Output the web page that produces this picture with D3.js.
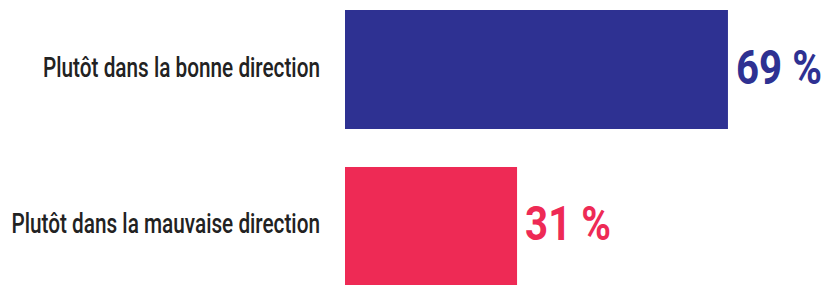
<!DOCTYPE html>
<html>
<head>
<meta charset="utf-8">
<script src="https://cdn.jsdelivr.net/npm/d3@7"></script>
<style>
  body { margin: 0; background: #fff; }
  svg { display: block; }
</style>
</head>
<body>
<div id="chart"></div>
<script>
// chart data
const categories = ["Plutôt dans la bonne direction", "Plutôt dans la mauvaise direction"];
const values = [69, 31];
const valueLabels = ["69 %", "31 %"];
const colors = ["#2e3192", "#ee2a55"];

function drawChart() {
  const width = 826;
  const height = 285;

  const svg = d3
    .select("#chart")
    .append("svg")
    .attr("width", width)
    .attr("height", height);

  // 100 % would reach x = 900, so 69 % ends at ~728
  const x = d3.scaleLinear().domain([0, 100]).range([345, 900]);

  const y = d3
    .scaleBand()
    .domain(categories)
    .range([10, 286])
    .paddingInner(0.242);

  const rows = svg
    .selectAll("g.row")
    .data(categories)
    .join("g")
    .attr("class", "row");

  rows
    .append("rect")
    .attr("x", x(0))
    .attr("y", (d) => y(d))
    .attr("width", (d, i) => x(values[i]) - x(0))
    .attr("height", y.bandwidth())
    .attr("fill", (d, i) => colors[i]);

  // category labels, right aligned (the original font is condensed,
  // so the text gets squeezed horizontally)
  const labels = rows
    .append("text")
    .attr("class", "cat")
    .attr("text-anchor", "end")
    .style("font-family", "Roboto, sans-serif")
    .style("font-size", "27px")
    .style("font-weight", 500)
    .attr("fill", "#222")
    .text((d) => d);

  const labelScale = 277 / labels.node().getComputedTextLength();
  labels.attr(
    "transform",
    (d) => `translate(320,${y(d) + y.bandwidth() / 2 + 7}) scale(${labelScale},1)`
  );

  // value labels next to the bars
  const vals = rows
    .append("text")
    .attr("class", "val")
    .style("font-family", "Roboto, sans-serif")
    .style("font-weight", "bold")
    .style("font-size", "49px")
    .attr("fill", (d, i) => colors[i])
    .text((d, i) => valueLabels[i]);

  const valScale = 86 / vals.node().getComputedTextLength();
  vals.attr(
    "transform",
    (d, i) =>
      `translate(${x(values[i]) + 8},${y(d) + y.bandwidth() / 2 + 14}) scale(${valScale},1)`
  );
}

drawChart();
</script>
</body>
</html>
